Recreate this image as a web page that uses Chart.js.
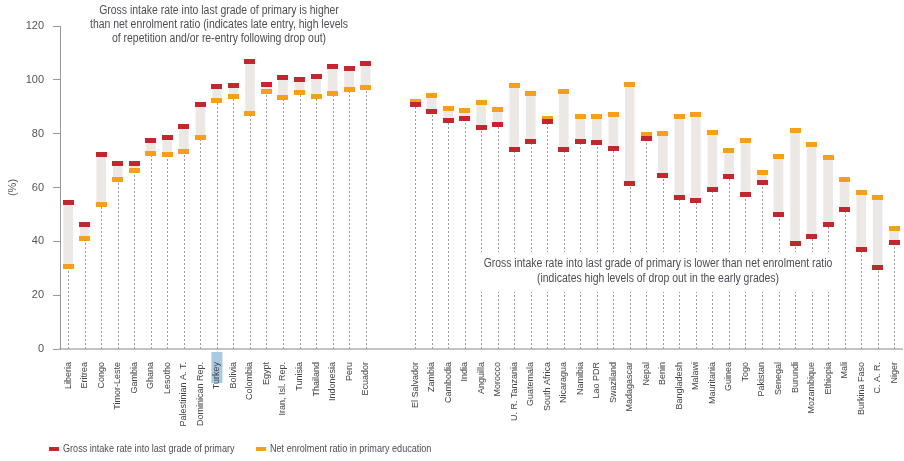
<!DOCTYPE html>
<html>
<head>
<meta charset="utf-8">
<script src="https://cdn.jsdelivr.net/npm/chart.js@4.4.1/dist/chart.umd.min.js"></script>
<style>
  html, body { margin: 0; padding: 0; background: #fff; overflow: hidden; }
  #wrap { width: 910px; height: 461px; position: relative; }
</style>
</head>
<body>
<div id="wrap"><canvas id="chart"></canvas></div>
<script>
// countries, left group: GIR above NER; right group: GIR below NER
const leftCountries = ['Liberia', 'Eritrea', 'Congo', 'Timor-Leste', 'Gambia', 'Ghana', 'Lesotho',
  'Palestinian A. T.', 'Dominican Rep.', 'Turkey', 'Bolivia', 'Colombia', 'Egypt', 'Iran, Isl. Rep.',
  'Tunisia', 'Thailand', 'Indonesia', 'Peru', 'Ecuador'];
const leftGIR = [54.5, 46.3, 72.1, 69.1, 68.9, 77.5, 78.4, 82.8, 90.7, 97.4, 97.8, 106.7, 98.4, 101.0,
  100.0, 101.2, 104.9, 104.1, 106.2];
const leftNER = [30.6, 40.9, 53.8, 62.8, 66.4, 72.8, 72.3, 73.2, 78.4, 92.3, 93.7, 87.4, 95.8, 93.6,
  95.2, 93.8, 94.9, 96.3, 97.0];

const rightCountries = ['El Salvador', 'Zambia', 'Cambodia', 'India', 'Anguilla', 'Morocco',
  'U. R. Tanzania', 'Guatemala', 'South Africa', 'Nicaragua', 'Namibia', 'Lao PDR', 'Swaziland',
  'Madagascar', 'Nepal', 'Benin', 'Bangladesh', 'Malawi', 'Mauritania', 'Guinea', 'Togo', 'Pakistan',
  'Senegal', 'Burundi', 'Mozambique', 'Ethiopia', 'Mali', 'Burkina Faso', 'C. A. R.', 'Niger'];
const rightGIR = [90.8, 88.1, 85.0, 85.7, 82.2, 83.3, 74.2, 77.1, 84.4, 74.2, 77.1, 76.9, 74.6,
  61.5, 78.1, 64.3, 56.3, 55.2, 59.4, 64.2, 57.3, 61.7, 49.9, 39.1, 41.7, 46.1, 52.0, 37.0, 30.4, 39.5];
const rightNER = [92.0, 94.1, 89.5, 88.6, 91.6, 88.8, 97.9, 95.1, 85.8, 95.7, 86.4, 86.3, 87.0,
  98.4, 79.6, 80.2, 86.5, 87.0, 80.4, 73.6, 77.3, 65.6, 71.7, 81.2, 76.0, 71.3, 63.0, 58.0, 56.2, 44.7];

const yTicks = [0, 20, 40, 60, 80, 100, 120];
const highlighted = 'Turkey';

const topNote = ['Gross intake rate into last grade of primary is higher',
  'than net enrolment ratio (indicates late entry, high levels',
  'of repetition and/or re-entry following drop out)'];
const bottomNote = ['Gross intake rate into last grade of primary is lower than net enrolment ratio',
  '(indicates high levels of drop out in the early grades)'];

const gap = ['', ''];
const labels = [...leftCountries, ...gap, ...rightCountries];
const gir = [...leftGIR, null, null, ...rightGIR];
const ner = [...leftNER, null, null, ...rightNER];
const ranges = gir.map((g, i) => g == null ? null : [Math.min(g, ner[i]), Math.max(g, ner[i])]);

const RED = '#c1272d', ORANGE = '#f6a01a', BAR = '#ece8e5', TXT = '#4f4d55';
const FONT = "'Liberation Sans', Arial, sans-serif";
// no narrow face installed, so squeeze the free text by hand
const NOTE_SQUEEZE = 0.87, LEGEND_SQUEEZE = 0.825;

function marker(color) {
  const c = document.createElement('canvas');
  c.width = 11; c.height = 5;
  const g = c.getContext('2d');
  g.fillStyle = color;
  g.fillRect(0, 0, 11, 5);
  return c;
}

function narrowText(ctx, text, x, y, align, sq) {
  ctx.save();
  ctx.translate(x, y);
  ctx.scale(sq, 1);
  ctx.textAlign = align;
  ctx.fillText(text, 0, 0);
  ctx.restore();
}

const extras = {
  id: 'extras',
  beforeDraw(chart) {
    // blue highlight behind one tick label
    const {ctx, scales: {x}} = chart;
    const i = labels.indexOf(highlighted);
    const px = x.getPixelForValue(i);
    ctx.save();
    ctx.font = '9px ' + FONT;
    const w = ctx.measureText(highlighted).width;
    ctx.fillStyle = '#a9c8e4';
    ctx.fillRect(px - 5.5, x.top + 3, 11, w + 4);
    ctx.restore();
  },
  beforeDatasetsDraw(chart) {
    const {ctx, scales: {x, y}} = chart;
    const y0 = y.getPixelForValue(0);
    ctx.save();
    ctx.strokeStyle = '#9a9a9a';
    ctx.lineWidth = 1;
    ctx.setLineDash([2, 2]);
    ranges.forEach((r, i) => {
      if (!r) return;
      const px = Math.round(x.getPixelForValue(i)) + 0.5;
      ctx.beginPath();
      ctx.moveTo(px, y0);
      ctx.lineTo(px, y.getPixelForValue(r[0]));
      ctx.stroke();
    });
    ctx.setLineDash([]);

    // notes
    ctx.font = '12px ' + FONT;
    ctx.textBaseline = 'middle';
    ctx.fillStyle = TXT;
    topNote.forEach((t, k) => narrowText(ctx, t, 219, 11 + k * 14, 'center', NOTE_SQUEEZE));

    const cx = 658, by = 264;
    const bw = NOTE_SQUEEZE * Math.max(...bottomNote.map(t => ctx.measureText(t).width));
    ctx.fillStyle = '#fff';
    ctx.fillRect(cx - bw / 2 - 8, by - 12, bw + 16, 40);
    ctx.fillStyle = TXT;
    bottomNote.forEach((t, k) => narrowText(ctx, t, cx, by + k * 15, 'center', NOTE_SQUEEZE));
    ctx.restore();
  },
  afterDraw(chart) {
    // legend
    const ctx = chart.ctx;
    const items = chart.data.datasets.filter(d => d.legendColor);
    const pos = [49, 256];
    ctx.save();
    ctx.font = '11px ' + FONT;
    ctx.textBaseline = 'middle';
    items.forEach((d, k) => {
      ctx.fillStyle = d.legendColor;
      ctx.fillRect(pos[k], 447, 10, 4);
      ctx.fillStyle = TXT;
      narrowText(ctx, d.label, pos[k] + 14, 449, 'left', LEGEND_SQUEEZE);
    });
    ctx.restore();
  }
};

new Chart(document.getElementById('chart'), {
  data: {
    labels: labels,
    datasets: [
      {
        type: 'line', label: 'Gross intake rate into last grade of primary', data: gir,
        showLine: false, pointStyle: marker(RED), legendColor: RED
      },
      {
        type: 'line', label: 'Net enrolment ratio in primary education', data: ner,
        showLine: false, pointStyle: marker(ORANGE), legendColor: ORANGE
      },
      {
        type: 'bar', label: 'range', data: ranges, backgroundColor: BAR,
        barThickness: 9, grouped: false
      }
    ]
  },
  options: {
    responsive: true,
    maintainAspectRatio: false,
    animation: false,
    events: [],
    layout: { padding: { top: 26, right: 2, bottom: 32, left: 0 } },
    plugins: { legend: { display: false }, tooltip: { enabled: false } },
    scales: {
      x: {
        type: 'category',
        offset: true,
        grid: { display: false },
        border: { display: true, color: '#c4c4c4', width: 2 },
        ticks: {
          autoSkip: false, minRotation: 90, maxRotation: 90, padding: 5,
          color: '#444', font: { family: FONT, size: 9 }
        },
        afterFit: s => { s.height = 80; }
      },
      y: {
        min: 0, max: 120,
        afterBuildTicks: s => { s.ticks = yTicks.map(v => ({value: v})); },
        grid: { drawOnChartArea: false, drawTicks: true, tickLength: 7, color: '#999' },
        border: { display: true, color: '#999', width: 1 },
        ticks: { padding: 9, color: '#555', font: { family: FONT, size: 11 } },
        title: { display: true, text: '(%)', color: '#555', padding: { top: 6, bottom: 0 },
          font: { family: FONT, size: 11 } },
        afterFit: s => { s.width = 60; }
      }
    }
  },
  plugins: [extras]
});
</script>
</body>
</html>
